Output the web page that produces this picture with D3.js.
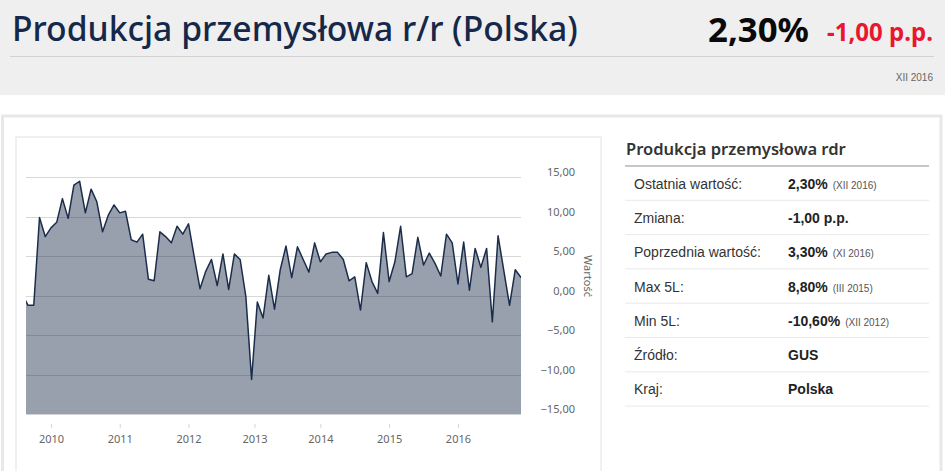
<!DOCTYPE html>
<html>
<head>
<meta charset="utf-8">
<script src="https://cdn.jsdelivr.net/npm/d3@7"></script>
<style>
  html, body { margin: 0; padding: 0; background: #fff; }
  svg { display: block; }
</style>
</head>
<body>
<svg id="page" width="945" height="471"></svg>
<script>
// monthly readings, r/r in % (Aug 2009 sits just left of the plot)
var v2009 = [0.2, -1.2, -1.2, 9.9, 7.5];
var v2010 = [8.6, 9.3, 12.3, 9.8, 14.0, 14.5, 10.5, 13.5, 11.9, 8.1, 10.2, 11.5];
var v2011 = [10.5, 10.7, 7.1, 6.8, 7.8, 2.1, 1.9, 8.1, 7.5, 6.7, 8.8, 7.8];
var v2012 = [9.1, 4.9, 0.9, 3.1, 4.6, 1.3, 5.3, 0.8, 5.3, 4.6, -0.1, -10.6];
var v2013 = [-0.8, -2.8, 2.6, -1.7, 3.3, 6.3, 2.3, 6.2, 4.6, 3.0, 6.7]; // Feb-Dec, January has no point
var v2014 = [4.3, 5.3, 5.5, 5.5, 4.6, 1.9, 2.4, -1.8, 4.2, 1.8, 0.3, 8.0];
var v2015 = [1.8, 4.3, 8.8, 2.4, 2.8, 7.4, 3.9, 5.4, 4.1, 2.5, 7.8, 6.7];
var v2016 = [1.5, 6.8, 0.7, 6.0, 3.6, 6.0, -3.3, 7.6, 3.2, -1.2, 3.3, 2.3];

var missingMonths = ["2013-01"];
var yTicks = [15, 10, 5, 0, -5, -10, -15];
var yearTicks = [2010, 2011, 2012, 2013, 2014, 2015, 2016];

var rowLabels = ["Ostatnia wartość:", "Zmiana:", "Poprzednia wartość:", "Max 5L:", "Min 5L:", "Źródło:", "Kraj:"];
var rowValues = ["2,30%", "-1,00 p.p.", "3,30%", "8,80%", "-10,60%", "GUS", "Polska"];
var rowNotes = ["(XII 2016)", "", "(XI 2016)", "(III 2015)", "(XII 2012)", "", ""];

var monthKey = d3.timeFormat("%Y-%m");
var months = d3.timeMonth.range(new Date(2009, 7, 1), new Date(2017, 0, 1))
	.filter(function(d) { return missingMonths.indexOf(monthKey(d)) < 0; });
var values = [].concat(v2009, v2010, v2011, v2012, v2013, v2014, v2015, v2016);
var data = months.map(function(d, i) { return {date: d, value: values[i]}; });

// ordinal time axis: points evenly spaced, dates in between interpolated
function ordinal(date) {
	var i = d3.bisector(function(d) { return d.date; }).right(data, date) - 1;
	i = Math.max(0, Math.min(data.length - 2, i));
	var a = data[i].date, b = data[i + 1].date;
	return i + (date - a) / (b - a);
}

var svg = d3.select("#page");
var fmt = d3.formatLocale({decimal: ",", thousands: " ", grouping: [3], currency: ["", ""]}).format(".2f");

// ---- header band
svg.append("rect").attr("x", 0).attr("y", 0).attr("width", 945).attr("height", 95).attr("fill", "#efefef");
svg.append("line").attr("x1", 10).attr("x2", 934).attr("y1", 56.5).attr("y2", 56.5)
	.attr("stroke", "#d2d2d2").attr("stroke-width", 1);

function fit(sel, w) {
	var size = parseFloat(sel.style("font-size"));
	var len = sel.node().getComputedTextLength();
	sel.style("font-size", (size * w / len).toFixed(2) + "px");
	return sel;
}

var title = svg.append("text").attr("x", 12).attr("y", 41)
	.style("font-family", "'Noto Sans', sans-serif").style("font-weight", 500)
	.style("font-size", "34px").attr("fill", "#16284a")
	.text("Produkcja przemysłowa r/r (Polska)");
fit(title, 566);

var last = svg.append("text").attr("x", 809).attr("y", 41.5).attr("text-anchor", "end")
	.style("font-family", "'Noto Sans', sans-serif").style("font-weight", "bold")
	.style("font-size", "35px").attr("fill", "#0a0a0a").text("2,30%");
fit(last, 101);

var change = svg.append("text").attr("x", 933).attr("y", 40.7).attr("text-anchor", "end")
	.style("font-family", "'Noto Sans', sans-serif").style("font-weight", "bold")
	.style("font-size", "24px").attr("fill", "#e8162f").text("-1,00 p.p.");
fit(change, 106);

svg.append("text").attr("x", 933).attr("y", 81).attr("text-anchor", "end")
	.style("font-family", "'Liberation Sans', Arial, sans-serif").style("font-size", "10px")
	.attr("fill", "#666").text("XII 2016");

// ---- boxes
svg.append("rect").attr("x", 2.5).attr("y", 116).attr("width", 938.5).attr("height", 400)
	.attr("fill", "#fff").attr("stroke", "#e8e8e8").attr("stroke-width", 3);
svg.append("rect").attr("x", 16).attr("y", 137).attr("width", 585).attr("height", 400)
	.attr("fill", "#fff").attr("stroke", "#ececec").attr("stroke-width", 1.5);

// ---- chart
var plotLeft = 26, plotRight = 521, plotTop = 177.3, plotBottom = 414.3;
var x = d3.scaleLinear()
	.domain([ordinal(new Date(2009, 7, 21)), data.length - 1])
	.range([plotLeft, plotRight]);
var y = d3.scaleLinear().domain([-15, 15]).range([plotBottom, plotTop]);

var chart = svg.append("g");
chart.append("clipPath").attr("id", "plotClip").append("rect")
	.attr("x", plotLeft).attr("y", plotTop - 10).attr("width", plotRight - plotLeft).attr("height", plotBottom - plotTop + 10);

chart.append("g").selectAll("line").data(yTicks).join("line")
	.attr("x1", plotLeft).attr("x2", plotRight)
	.attr("y1", function(d) { return Math.round(y(d)) + 0.5; })
	.attr("y2", function(d) { return Math.round(y(d)) + 0.5; })
	.attr("stroke", "#d8d8d8").attr("stroke-width", 1);

var area = d3.area()
	.x(function(d, i) { return x(i); })
	.y0(y(-15))
	.y1(function(d) { return y(d.value); });
var line = d3.line()
	.x(function(d, i) { return x(i); })
	.y(function(d) { return y(d.value); });

var series = chart.append("g").attr("clip-path", "url(#plotClip)");
series.append("path").datum(data).attr("d", area)
	.attr("fill", "#1b2d4b").attr("fill-opacity", 0.45);
series.append("path").datum(data).attr("d", line)
	.attr("fill", "none").attr("stroke", "#1b2d4b").attr("stroke-width", 1.5)
	.attr("stroke-linejoin", "round");

// y axis on the right, labels sit a little above their grid lines
var yAxis = chart.append("g").attr("transform", "translate(575,0)")
	.call(d3.axisLeft(y).tickValues(yTicks).tickSize(0).tickPadding(0).tickFormat(fmt));
yAxis.select(".domain").remove();
yAxis.selectAll("text").attr("y", -5.5).attr("dy", "0.35em")
	.style("font-family", "'Noto Sans', sans-serif").style("font-size", "11px").attr("fill", "#666");

chart.append("text").attr("transform", "translate(584," + y(2.5) + ") rotate(90)")
	.attr("text-anchor", "middle")
	.style("font-family", "'Noto Sans', sans-serif").style("font-size", "11px").attr("fill", "#666")
	.text("Wartość");

// x axis, years at Jan 1 on the ordinal scale
var xAxis = chart.append("g").attr("transform", "translate(0,424)")
	.call(d3.axisBottom(x)
		.tickValues(yearTicks.map(function(yr) { return ordinal(new Date(yr, 0, 1)); }))
		.tickFormat(function(d, i) { return yearTicks[i]; })
		.tickSize(4).tickPadding(7));
xAxis.select(".domain").remove();
xAxis.selectAll(".tick line").attr("stroke", "#ccd6eb");
xAxis.selectAll("text")
	.style("font-family", "'Noto Sans', sans-serif").style("font-size", "11px").attr("fill", "#666");

// ---- info panel
var panel = svg.append("g");
var head = panel.append("text").attr("x", 626).attr("y", 155)
	.style("font-family", "'Noto Sans', sans-serif").style("font-weight", 600)
	.style("font-size", "17px").attr("fill", "#333").text("Produkcja przemysłowa rdr");
fit(head, 220);
panel.append("line").attr("x1", 625).attr("x2", 929).attr("y1", 166).attr("y2", 166)
	.attr("stroke", "#b4b4b4").attr("stroke-width", 1.5);

var rowH = 34.3;
var rows = panel.selectAll("g.row").data(rowLabels).join("g").attr("class", "row")
	.attr("transform", function(d, i) { return "translate(0," + (166 + i * rowH) + ")"; });
rows.append("line").attr("x1", 625).attr("x2", 929)
	.attr("y1", rowH).attr("y2", rowH).attr("stroke", "#e9e9e9").attr("stroke-width", 1);
rows.append("text").attr("x", 634).attr("y", function(d, i) { return i == 0 ? 23.3 : 22.7; })
	.style("font-family", "'Liberation Sans', Arial, sans-serif").style("font-size", "14px")
	.attr("fill", "#333").text(function(d) { return d; });
var val = rows.append("text").attr("x", 788).attr("y", function(d, i) { return i == 0 ? 23.3 : 22.7; })
	.style("font-family", "'Liberation Sans', Arial, sans-serif").attr("fill", "#222");
val.append("tspan").style("font-size", "14px").style("font-weight", "bold")
	.text(function(d, i) { return rowValues[i]; });
val.append("tspan").attr("dx", 5).style("font-size", "10px").attr("fill", "#555")
	.text(function(d, i) { return rowNotes[i]; });
</script>
</body>
</html>
